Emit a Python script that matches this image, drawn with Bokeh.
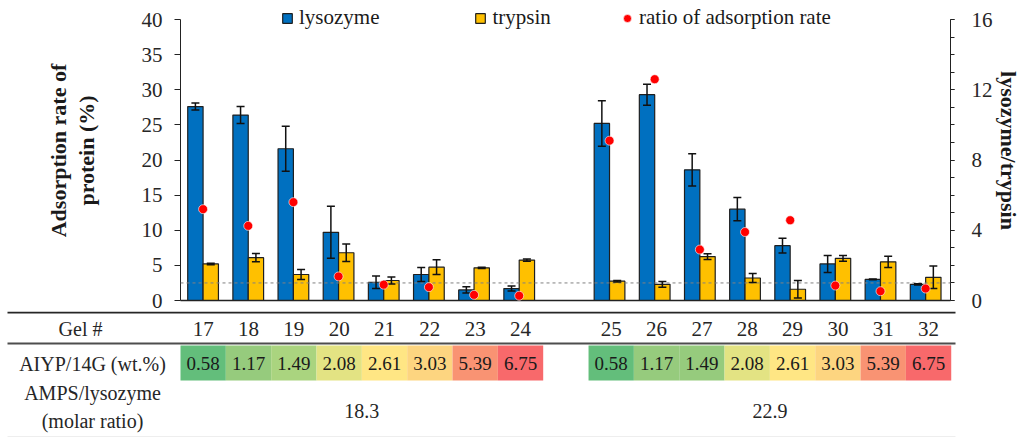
import numpy as np
from bokeh.plotting import figure
from bokeh.models import (ColumnDataSource, Range1d, LinearAxis, SingleIntervalTicker,
                          FixedTicker, Whisker, TeeHead, Legend, LegendItem, Span)
from bokeh.transform import dodge
from bokeh.layouts import column
from bokeh.core.properties import value
from bokeh.embed import file_html
from bokeh.resources import INLINE

# ---------------- data ----------------
gels = [17, 18, 19, 20, 21, 22, 23, 24, 25, 26, 27, 28, 29, 30, 31, 32]
lysozyme = [27.6, 26.4, 21.6, 9.7, 2.6, 3.7, 1.5, 1.7, 25.2, 29.3, 18.6, 13.0, 7.8, 5.2, 3.0, 2.3]
lysozyme_err = [0.5, 1.2, 3.2, 3.7, 0.9, 1.0, 0.45, 0.35, 3.25, 1.5, 2.3, 1.65, 1.05, 1.2, 0.05, 0.1]
trypsin = [5.2, 6.1, 3.7, 6.8, 2.85, 4.75, 4.65, 5.75, 2.75, 2.3, 6.25, 3.2, 1.6, 6.0, 5.5, 3.3]
trypsin_err = [0.1, 0.6, 0.7, 1.25, 0.5, 1.05, 0.1, 0.15, 0.1, 0.4, 0.4, 0.65, 1.25, 0.4, 0.8, 1.6]
ratio = [5.2, 4.25, 5.6, 1.37, 0.9, 0.76, 0.32, 0.27, 9.1, 12.6, 2.9, 3.9, 4.57, 0.85, 0.53, 0.68]
aiyp = [0.58, 1.17, 1.49, 2.08, 2.61, 3.03, 5.39, 6.75,
        0.58, 1.17, 1.49, 2.08, 2.61, 3.03, 5.39, 6.75]
amps_ratio = ["18.3", "22.9"]
ratio_reference = 1

# ---------------- styles ----------------
FONT = value("Liberation Serif")
FONT_NAME = "Liberation Serif"
TXT = "#262626"
cell_colors = ["#63BE7B", "#96CB7D", "#AAD47F", "#E3E383", "#FFE684", "#FDD580", "#F99373", "#F8696B",
               "#63BE7B", "#96CB7D", "#96CB7D", "#E3E383", "#FFE684", "#FDD580", "#F99373", "#F8696B"]

# slot positions: two groups of 8 separated by one empty slot
n = len(gels)
group = [0 if i < 8 else 1 for i in range(n)]
slot = [i + g for i, g in enumerate(group)]

src = ColumnDataSource(dict(
    slot=slot,
    lys=lysozyme, lys_up=[a + b for a, b in zip(lysozyme, lysozyme_err)],
    lys_lo=[a - b for a, b in zip(lysozyme, lysozyme_err)],
    tryp=trypsin, tryp_up=[a + b for a, b in zip(trypsin, trypsin_err)],
    tryp_lo=[a - b for a, b in zip(trypsin, trypsin_err)],
    ratio=ratio,
))

# ---------------- layout constants ----------------
W = 1023
TOP_H = 311
BOT_H = 126
BORDER_L = 180
BORDER_R = 70
BORDER_B = 11
frame_w = W - BORDER_L - BORDER_R
frame_h = TOP_H - BORDER_B
x0, x1 = -0.5, 16.55
px_per = frame_w / (x1 - x0)
y_top = 40 * frame_h / 281.0
r_top = 16 * frame_h / 281.0

top = figure(width=W, height=TOP_H, x_range=Range1d(x0, x1), y_range=Range1d(0, y_top),
             x_axis_location=None, y_axis_location=None, toolbar_location=None,
             output_backend="svg", min_border_left=BORDER_L, min_border_right=BORDER_R,
             min_border_top=0, min_border_bottom=BORDER_B, outline_line_color=None,
             frame_align=False)
top.grid.visible = False
top.extra_y_ranges = {"ratio": Range1d(0, r_top)}

xb = LinearAxis(ticker=FixedTicker(ticks=[]), major_label_text_font_size="0px",
                major_tick_out=0, minor_tick_out=0, major_label_standoff=0,
                axis_line_color="#222222", axis_line_width=1.3)
top.add_layout(xb, "below")

yl = LinearAxis(ticker=SingleIntervalTicker(interval=5, num_minor_ticks=0), bounds=(0, 40),
                axis_label="Adsorption rate of\nprotein (%)",
                axis_label_text_font=FONT_NAME, axis_label_text_font_size="22px",
                axis_label_text_font_style="bold", axis_label_text_color="#1a1a1a",
                axis_label_text_line_height=1.1, axis_label_standoff=40,
                major_label_text_font=FONT_NAME, major_label_text_font_size="21px",
                major_label_text_color=TXT, major_label_standoff=12,
                major_tick_out=6, major_tick_in=0, minor_tick_out=0,
                axis_line_color="#222222", major_tick_line_color="#222222")
top.add_layout(yl, "left")

yr = LinearAxis(y_range_name="ratio",
                ticker=SingleIntervalTicker(interval=4, num_minor_ticks=4), bounds=(0, 16),
                axis_label="lysozyme/trypsin",
                axis_label_text_font=FONT_NAME, axis_label_text_font_size="22px",
                axis_label_text_font_style="bold", axis_label_text_color="#1a1a1a",
                axis_label_standoff=0,
                major_label_text_font=FONT_NAME, major_label_text_font_size="21px",
                major_label_text_color=TXT, major_label_standoff=17,
                major_tick_out=4, major_tick_in=0, minor_tick_out=4, minor_tick_in=0,
                axis_line_color="#222222", major_tick_line_color="#222222",
                minor_tick_line_color="#222222")
top.add_layout(yr, "right")

top.add_layout(Span(location=ratio_reference, dimension="width", y_range_name="ratio",
                    line_dash="3 3", line_color="#808080", line_width=1))

bw = 0.34
r_lys = top.vbar(x=dodge("slot", -bw / 2, range=top.x_range), top="lys", width=bw, source=src,
                 fill_color="#0070C0", line_color="#1f1f1f", line_width=1.2)
r_try = top.vbar(x=dodge("slot", bw / 2, range=top.x_range), top="tryp", width=bw, source=src,
                 fill_color="#FFC000", line_color="#1f1f1f", line_width=1.2)

for base, up, lo in [(dodge("slot", -bw / 2, range=top.x_range), "lys_up", "lys_lo"),
                     (dodge("slot", bw / 2, range=top.x_range), "tryp_up", "tryp_lo")]:
    w = Whisker(source=src, base=base, upper=up, lower=lo, line_color="#111111", line_width=1.5,
                upper_head=TeeHead(size=8, line_width=1.5, line_color="#111111"),
                lower_head=TeeHead(size=8, line_width=1.5, line_color="#111111"),
                level="annotation")
    top.add_layout(w)

r_rat = top.scatter("slot", "ratio", y_range_name="ratio", source=src, size=9,
                    fill_color="#FF0000", line_color="white", line_width=0.6)
r_rat.level = "overlay"

legend_style = dict(orientation="horizontal", label_text_font=FONT_NAME,
                    label_text_font_size="21px", label_text_color="#1a1a1a",
                    border_line_color=None, background_fill_alpha=0, padding=0, margin=0)
legend1 = Legend(items=[LegendItem(label="lysozyme", renderers=[r_lys]),
                        LegendItem(label="trypsin", renderers=[r_try])],
                 location=(101, frame_h - 30), spacing=95,
                 glyph_width=12, glyph_height=12, label_standoff=6, **legend_style)
legend2 = Legend(items=[LegendItem(label="ratio of adsorption rate", renderers=[r_rat])],
                 location=(437, frame_h - 30),
                 glyph_width=20, glyph_height=20, label_standoff=2, **legend_style)
top.add_layout(legend1)
top.add_layout(legend2)

# ---------------- table below ----------------
bx0 = x0 - BORDER_L / px_per
bx1 = x1 + BORDER_R / px_per
bot = figure(width=W, height=BOT_H, x_range=Range1d(bx0, bx1), y_range=Range1d(BOT_H, 0),
             x_axis_location=None, y_axis_location=None, toolbar_location=None,
             output_backend="svg", min_border=0, min_border_left=0, min_border_right=0,
             min_border_top=0, min_border_bottom=0, outline_line_color=None,
             frame_align=False)
bot.grid.visible = False

def px(xw):
    return bx0 + xw / px_per

line_l, line_r = px(7), px(955)
label_x = px(92)

bot.segment(x0=[line_l], x1=[line_r], y0=[1], y1=[1], line_color="#262626", line_width=2)
bot.segment(x0=[line_l], x1=[line_r], y0=[32], y1=[32], line_color="#4d4d4d", line_width=2)
bot.segment(x0=[line_l], x1=[line_r], y0=[125], y1=[125], line_color="#eeeeee", line_width=1)

tsrc = ColumnDataSource(dict(slot=slot, gel=[str(g) for g in gels],
                             aiyp=["%.2f" % a for a in aiyp], color=cell_colors))
bot.rect(x="slot", y=51.5, width=1.0, height=35, source=tsrc, fill_color="color", line_color=None)
bot.text(x="slot", y=17, text="gel", source=tsrc, text_font=FONT, text_font_size="21px",
         text_color=TXT, text_align="center", text_baseline="middle")
bot.text(x="slot", y=52, text="aiyp", source=tsrc, text_font=FONT, text_font_size="19px",
         text_color="#1a1a1a", text_align="center", text_baseline="middle")

bot.text(x=[px(80), label_x, label_x, label_x], y=[17, 52, 81, 109],
         text=["Gel #", "AIYP/14G (wt.%)", "AMPS/lysozyme", "(molar ratio)"],
         text_font=FONT, text_font_size="20px", text_color=TXT,
         text_align="center", text_baseline="middle")

grp_x = [float(np.mean([s for s, g in zip(slot, group) if g == k])) for k in range(2)]
bot.text(x=grp_x, y=[99, 99], text=amps_ratio, text_font=FONT, text_font_size="20px",
         text_color=TXT, text_align="center", text_baseline="middle")

layout = column(top, bot, spacing=0)
open("out.html", "w").write(file_html(layout, INLINE))
